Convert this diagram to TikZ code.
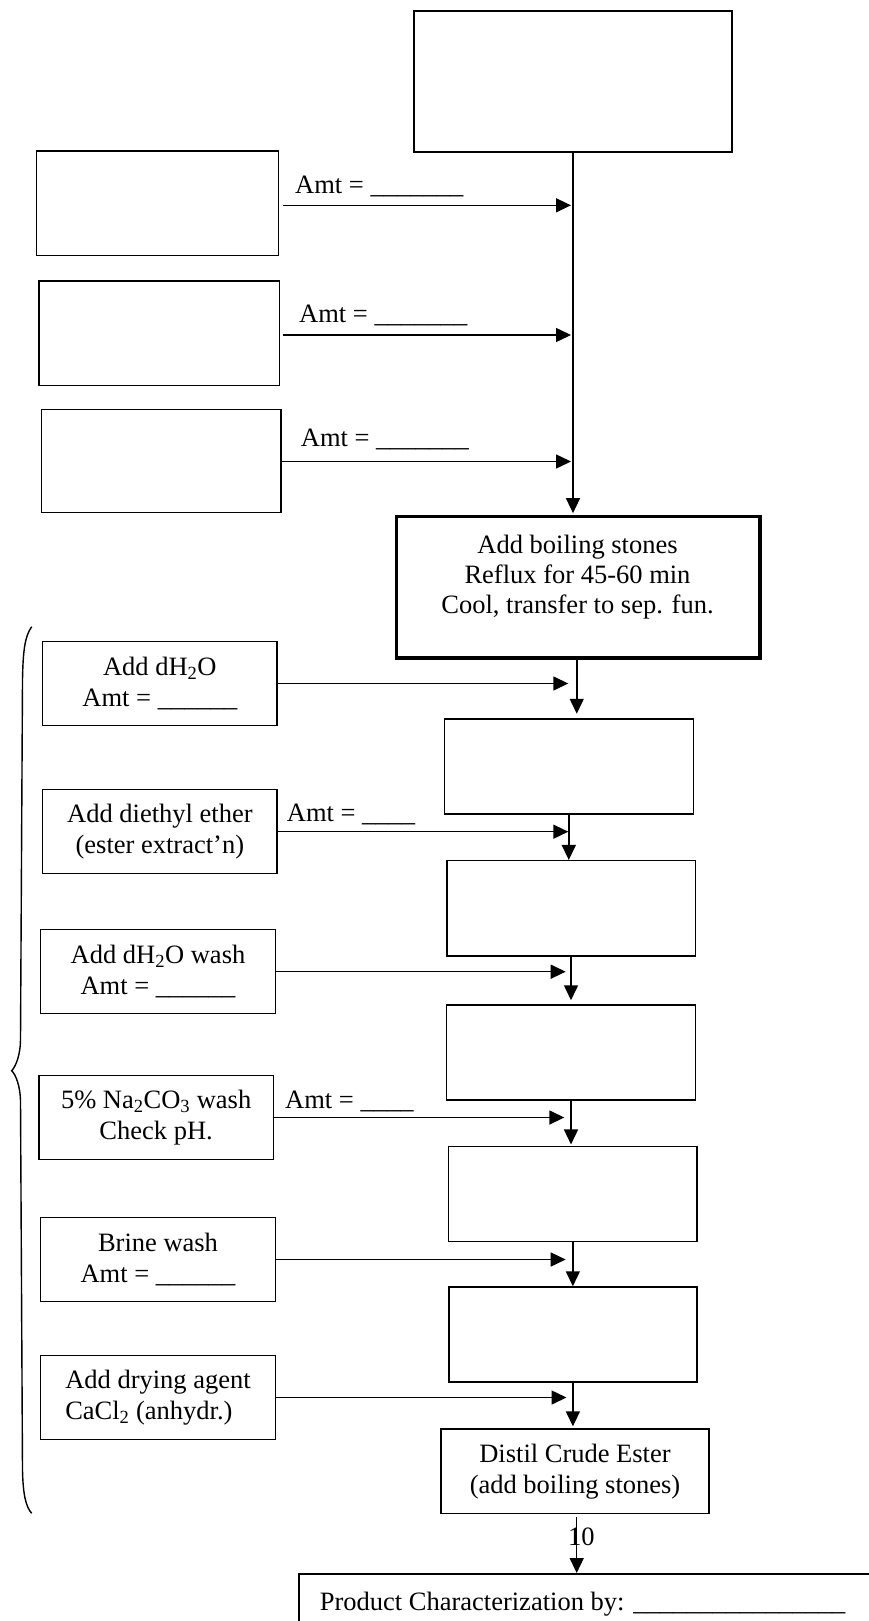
\documentclass[tikz,border=0pt]{standalone}
\usepackage{fontspec}
\setmainfont{Liberation Serif}
\usetikzlibrary{arrows.meta}
\begin{document}
\begin{tikzpicture}[x=1pt,y=-1pt,
  every node/.style={font=\fontsize{26.5}{31}\selectfont, inner sep=0pt},
  box/.style={draw, line width=1.5pt, align=center},
  thickbox/.style={draw, line width=3.5pt},
  arr/.style={line width=1.5pt, -{Triangle[length=15pt,width=14pt]}},
  lbl/.style={anchor=base west},
  ctxt/.style={anchor=base},
  bracestyle/.style={line width=1.4pt}]
\useasboundingbox (0,0) rectangle (869,1621);
\clip (0,0) rectangle (869,1621);
\fill[white] (0,0) rectangle (869,1621);

% top part
\node[box, minimum width=318pt, minimum height=141pt] (T) at (573,81.5) {};
\node[box, minimum width=242pt, minimum height=104.7pt] (L1) at (157.5,203.35) {};
\node[box, minimum width=240.3pt, minimum height=104.3pt] (L2) at (159.15,333.15) {};
\node[box, minimum width=239.7pt, minimum height=103.2pt] (L3) at (161.15,460.9) {};

\node[thickbox, minimum width=363.3pt, minimum height=141.3pt] (R) at (578.35,587.35) {};
\node[ctxt] (R1) at (577.5,553.3) {Add boiling stones};
\node[ctxt] (R2) at (577.5,583.3) {Reflux for 45-60 min};
\node[ctxt] (R3) at (577.5,613.3) {Cool, transfer to sep. fun.};

\coordinate (j1) at (571,205.3);
\coordinate (j2) at (571,335);
\coordinate (j3) at (571,461.5);

\draw[arr, shorten >=1.8pt] (T.south) -- (T.south |- R.north);
\draw[arr, shorten <=3.8pt] (L1.east |- j1) -- (j1);
\draw[arr, shorten <=3pt] (L2.east |- j2) -- (j2);
\draw[arr] (L3.east |- j3) -- (j3);

\node[lbl] (a1) at (295,193.3) {Amt = \_\_\_\_\_\_\_};
\node[lbl] (a2) at (299,322.3) {Amt = \_\_\_\_\_\_\_};
\node[lbl] (a3) at (300.7,446) {Amt = \_\_\_\_\_\_\_};

% left column
\node[box, minimum width=234.3pt, minimum height=84.4pt] (W1) at (159.85,683.5) {Add dH\textsubscript{2}O\\Amt = \_\_\_\_\_\_};
\node[box, minimum width=234.3pt, minimum height=84pt] (W2) at (159.85,831.7) {Add diethyl ether\\(ester extract’n)};
\node[box, minimum width=234.6pt, minimum height=84pt] (W3) at (158,971.7) {Add dH\textsubscript{2}O wash\\Amt = \_\_\_\_\_\_};
\node[box, minimum width=234.3pt, minimum height=83.6pt] (W4) at (156.15,1117.5) {5\% Na\textsubscript{2}CO\textsubscript{3} wash\\Check pH.};
\node[box, minimum width=234.6pt, minimum height=84.4pt] (W5) at (158,1259.5) {Brine wash\\Amt = \_\_\_\_\_\_};
\node[box, align=left, minimum width=234.6pt, minimum height=83.6pt] (W6) at (158,1397.5) {Add drying agent\\CaCl\textsubscript{2} (anhydr.)};

\node[lbl] (w2l) at (286.7,821.7) {Amt = \_\_\_\_};
\node[lbl] (w4l) at (285,1108.3) {Amt = \_\_\_\_};

% right column
\node[box, minimum width=249pt, minimum height=95pt] (A) at (568.8,766.5) {};
\node[box, minimum width=248.5pt, minimum height=95.3pt] (B) at (571,908.35) {};
\node[box, minimum width=248.6pt, minimum height=95pt] (C) at (571,1052.5) {};
\node[box, minimum width=248.3pt, minimum height=95pt] (D) at (572.85,1194.2) {};
\node[box, minimum width=248.2pt, minimum height=95pt] (E) at (572.9,1334.5) {};
\node[box, minimum width=268pt, minimum height=84.3pt] (Dis) at (575,1471.2) {Distil Crude Ester\\(add boiling stones)};

\node[box, anchor=north west, minimum width=640pt, minimum height=120pt] (P) at (298.3,1573) {};
\node[lbl] (Pt) at (319.6,1610) {Product Characterization by: \_\_\_\_\_\_\_\_\_\_\_\_\_\_\_\_};

\coordinate (k1) at (568.3,683.5);
\coordinate (k2) at (568.3,831.7);
\coordinate (k3) at (565.7,971.7);
\coordinate (k4) at (564.3,1117.5);
\coordinate (k5) at (565.7,1259.5);
\coordinate (k6) at (566.5,1397.5);

\draw[arr] (W1.east) -- (k1);
\draw[arr] (W2.east) -- (k2);
\draw[arr] (W3.east) -- (k3);
\draw[arr] (W4.east) -- (k4);
\draw[arr] (W5.east) -- (k5);
\draw[arr] (W6.east) -- (k6);

\draw[arr, shorten >=4.5pt] ([xshift=-1.6pt]R.south) -- ([xshift=-1.6pt]R.south |- A.north);
\draw[arr] (A.south) -- (A.south |- B.north);
\draw[arr, shorten >=4pt] (B.south) -- (B.south |- C.north);
\draw[arr, shorten >=1.5pt] (C.south) -- (C.south |- D.north);
\draw[arr] (D.south) -- (D.south |- E.north);
\draw[arr, shorten >=2pt] (E.south) -- (E.south |- Dis.north);
\draw[arr, shorten <=3pt] ([xshift=1.7pt]Dis.south) -- ([xshift=1.7pt]Dis.south |- P.north);

\node[lbl] (ten) at (568,1545) {10};

% brace
\draw[bracestyle] (31.7,626.7) .. controls (25,636) and (23,650) .. (22.5,680)
  -- (20.5,1040) .. controls (20.3,1055) and (16,1066) .. (11.7,1070.7)
  .. controls (16,1075) and (20,1086) .. (20.5,1100)
  -- (22.5,1470) .. controls (23,1495) and (26,1507) .. (31.7,1513.3);
\end{tikzpicture}
\end{document}
